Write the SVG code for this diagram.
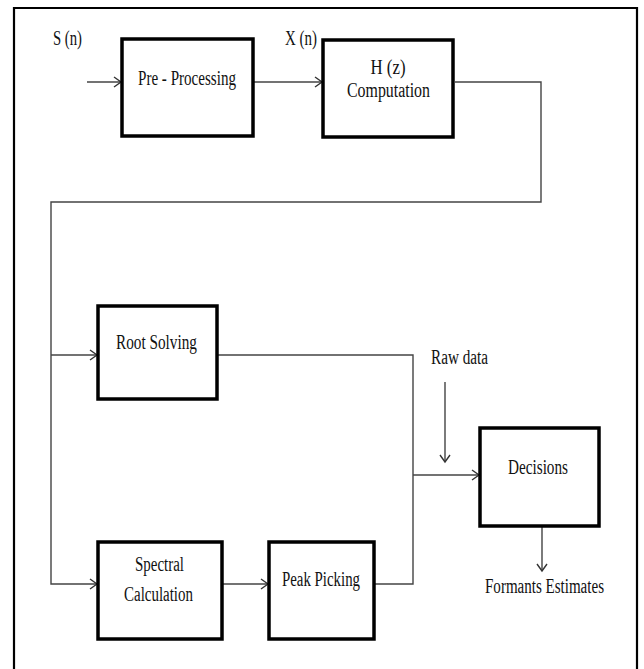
<svg xmlns="http://www.w3.org/2000/svg" width="644" height="669" viewBox="0 0 644 669">
<style>
.frame{fill:none;stroke:#000;stroke-width:2.2}
.box{fill:#fff;stroke:#000;stroke-width:3.5}
.conn{fill:none;stroke:#444;stroke-width:1.4}
.t{font-size:20px;fill:#111}
.c{text-anchor:middle}
</style>
<defs>
<marker id="ah" markerWidth="12" markerHeight="12" refX="10" refY="6" orient="auto" markerUnits="userSpaceOnUse">
<path d="M3,1 L10,6 L3,11" fill="none" stroke="#333" stroke-width="1.4"/>
</marker>
</defs>
<rect width="644" height="669" fill="#fff"/>
<path class="frame" d="M14,680 V8 H637 V680"/>
<g id="connectors">
<path class="conn" d="M87,82 H121" marker-end="url(#ah)"/>
<path class="conn" d="M254,82 H322" marker-end="url(#ah)"/>
<path class="conn" d="M455,82 H541 V202 H51 V584 H97" marker-end="url(#ah)"/>
<path class="conn" d="M51,355 H97" marker-end="url(#ah)"/>
<path class="conn" d="M217,355 H413 V584 H374"/>
<path class="conn" d="M413,475 H479" marker-end="url(#ah)"/>
<path class="conn" d="M222,584 H268" marker-end="url(#ah)"/>
<path class="conn" d="M445,382 V462" marker-end="url(#ah)"/>
<path class="conn" d="M542,526 V571" marker-end="url(#ah)"/>
</g>
<g font-family="'Liberation Serif', 'Times New Roman', serif">
<g id="labels">
<text class="t" x="53" y="45" textLength="29" lengthAdjust="spacingAndGlyphs">S (n)</text>
<text class="t" x="285" y="45" textLength="32" lengthAdjust="spacingAndGlyphs">X (n)</text>
<text class="t" x="431" y="364" textLength="57" lengthAdjust="spacingAndGlyphs">Raw data</text>
<text class="t" x="485" y="593" textLength="119" lengthAdjust="spacingAndGlyphs">Formants Estimates</text>
</g>
<g id="pre-processing">
<rect class="box" x="122" y="39" width="131" height="97"/>
<text class="t c" x="187" y="85" textLength="98" lengthAdjust="spacingAndGlyphs">Pre - Processing</text>
</g>
<g id="h-computation">
<rect class="box" x="323" y="40" width="130" height="97"/>
<text class="t c" x="388" y="74" textLength="35" lengthAdjust="spacingAndGlyphs">H (z)</text>
<text class="t c" x="388.5" y="97" textLength="83" lengthAdjust="spacingAndGlyphs">Computation</text>
</g>
<g id="root-solving">
<rect class="box" x="98" y="306" width="119" height="93"/>
<text class="t c" x="156.5" y="349" textLength="81" lengthAdjust="spacingAndGlyphs">Root Solving</text>
</g>
<g id="decisions">
<rect class="box" x="480" y="428" width="119" height="98"/>
<text class="t c" x="538" y="474" textLength="60" lengthAdjust="spacingAndGlyphs">Decisions</text>
</g>
<g id="spectral-calculation">
<rect class="box" x="98" y="542" width="124" height="97"/>
<text class="t c" x="159.5" y="571" textLength="49" lengthAdjust="spacingAndGlyphs">Spectral</text>
<text class="t c" x="158.5" y="601" textLength="69" lengthAdjust="spacingAndGlyphs">Calculation</text>
</g>
<g id="peak-picking">
<rect class="box" x="269" y="542" width="105" height="97"/>
<text class="t c" x="321" y="586" textLength="78" lengthAdjust="spacingAndGlyphs">Peak Picking</text>
</g>
</g>
</svg>
